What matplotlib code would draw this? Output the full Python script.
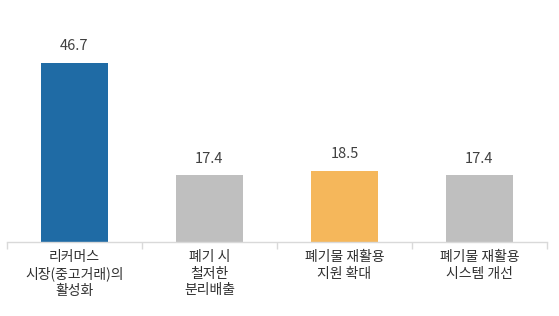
import matplotlib
matplotlib.use("Agg")
import matplotlib.pyplot as plt
import numpy as np

categories = ["리커머스\n시장(중고거래)의\n활성화", "폐기 시\n철저한\n분리배출", "폐기물 재활용\n지원 확대", "폐기물 재활용\n시스템 개선"]
values = [46.7, 17.4, 18.5, 17.4]
colors = ["#1f6ba5", "#bfbfbf", "#f5b75b", "#bfbfbf"]

plt.rcParams['font.family'] = ['Noto Sans CJK KR', 'DejaVu Sans']

fig = plt.figure(figsize=(5.59, 3.16), dpi=100)
ax = fig.add_axes([7/559, (316-242)/316, 540/559, 230/316])

x = np.arange(len(categories))
bars = ax.bar(x, values, width=0.5, color=colors)
ax.set_xlim(-0.5, len(categories) - 0.5)
ax.set_ylim(0, 60)

for xi, v in zip(x, values):
    ax.annotate(f"{v:.1f}", (xi, v), xytext=(0, 7), textcoords="offset points",
                ha="center", va="bottom", fontsize=10.5, color="#404040")

for s in ["top", "right", "left"]:
    ax.spines[s].set_visible(False)
ax.spines["bottom"].set_color("#d9d9d9")
ax.spines["bottom"].set_linewidth(1)
ax.set_yticks([])
ax.set_xticks(x)
ax.set_xticklabels(categories, fontsize=10, color="#303030", linespacing=1.2)
ax.tick_params(axis="x", which="major", length=0, pad=6)
ax.set_xticks(np.arange(-0.5, len(categories)), minor=True)
ax.tick_params(axis="x", which="minor", length=5, color="#d9d9d9", width=1)

fig.savefig("out.png", dpi=100)
